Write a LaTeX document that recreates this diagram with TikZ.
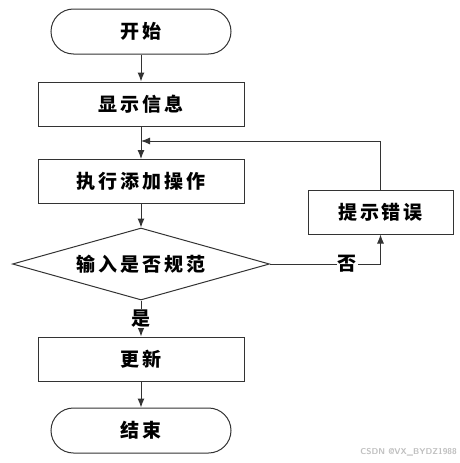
\documentclass[tikz,border=0pt]{standalone}
\usepackage{fontspec}
\newfontfamily\cjk[LetterSpace=15]{Noto Sans CJK SC}
\usetikzlibrary{shapes.geometric,arrows.meta}
\begin{document}
\begin{tikzpicture}[x=1pt,y=-1pt,
  base/.style={draw=black!80,line width=1pt,font=\cjk\bfseries\fontsize{19}{19}\selectfont,inner sep=0pt,anchor=center},
  term/.style={base,rounded corners=22.5pt,minimum width=180pt,minimum height=45pt},
  proc/.style={base,minimum width=206pt,minimum height=44pt},
  side/.style={base,minimum width=145pt,minimum height=44pt},
  dec/.style={base,diamond,aspect=3.57,minimum width=257pt,minimum height=72pt},
  conn/.style={draw=black!80,line width=1pt,-{Latex[length=9pt,width=7pt]}},
  lbl/.style={font=\cjk\bfseries\fontsize{19}{19}\selectfont,fill=white,inner sep=1pt}]
\useasboundingbox (0,0) rectangle (460,463);
\node[term] (start) at (141,31.5) {开始};
\node[proc] (show) at (141,104) {显示信息};
\node[proc] (exec) at (141,181.5) {执行添加操作};
\node[side] (err) at (380.5,212) {提示错误};
\node[dec] (chk) at (141,264) {输入是否规范};
\node[proc] (upd) at (141,359) {更新};
\node[term] (end) at (141,430.5) {结束};
\coordinate (j) at (141,141);
\draw[conn] (start) -- (show);
\draw[conn] (show) -- (exec);
\draw[conn] (err.north) |- (j);
\draw[conn] (exec) -- (chk);
\draw[conn] (chk.east) -| node[lbl,pos=0.35] {否} (err.south);
\draw[conn] (chk.south) -- node[lbl,pos=0.5] {是} (upd.north);
\draw[conn] (upd) -- (end);
\node[font=\sffamily\bfseries\fontsize{8.5}{8.5}\selectfont,text=black!25,anchor=south east,inner sep=0pt] (wm) at (457,456) {CSDN @VX\_BYDZ1988};
\end{tikzpicture}
\end{document}
